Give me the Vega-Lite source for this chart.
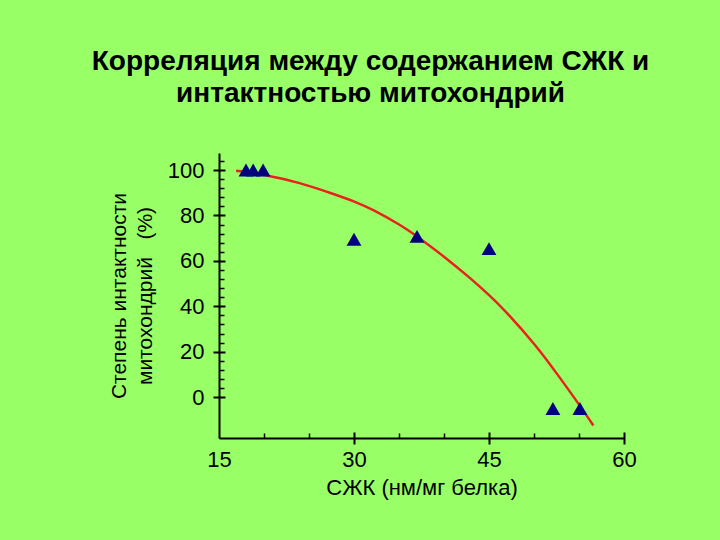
{
  "$schema": "https://vega.github.io/schema/vega-lite/v6.json",
  "autosize": {"type": "none"},
  "width": 405,
  "height": 285,
  "padding": {"left": 219, "top": 153, "right": 96, "bottom": 102},
  "background": "#99ff66",
  "config": {
    "view": {"stroke": null},
    "font": "Liberation Sans",
    "axis": {"grid": false, "domainColor": "black", "tickColor": "black", "labelColor": "black", "titleColor": "black", "labelFont": "Liberation Sans", "titleFont": "Liberation Sans"}
  },
  "title": {
    "text": ["Корреляция между содержанием СЖК и", "интактностью митохондрий"],
    "font": "Liberation Sans",
    "fontSize": 28,
    "fontWeight": "bold",
    "color": "black",
    "lineHeight": 32,
    "anchor": "middle",
    "dx": -51,
    "offset": 45
  },
  "datasets": {
    "curve": [
      {"x": 16.9, "y": 99.7},
      {"x": 20, "y": 98},
      {"x": 24, "y": 94.5},
      {"x": 27.7, "y": 89.5},
      {"x": 30, "y": 86.3},
      {"x": 32.1, "y": 82.6},
      {"x": 35.1, "y": 76},
      {"x": 37.3, "y": 70},
      {"x": 40, "y": 62},
      {"x": 42.9, "y": 52.5},
      {"x": 45, "y": 45},
      {"x": 46.6, "y": 39},
      {"x": 50.3, "y": 22.5},
      {"x": 52.7, "y": 9.5},
      {"x": 55.1, "y": -3.7},
      {"x": 56.6, "y": -12.5}
    ],
    "pts": [
      {"x": 18.0, "y": 100},
      {"x": 18.8, "y": 100},
      {"x": 19.9, "y": 100},
      {"x": 30, "y": 69.5},
      {"x": 37, "y": 70.8},
      {"x": 45, "y": 65.4},
      {"x": 52.1, "y": -5},
      {"x": 55.1, "y": -5}
    ]
  },
  "resolve": {"axis": {"x": "independent", "y": "independent"}},
  "layer": [
    {
      "data": {"name": "curve"},
      "mark": {"type": "line", "color": "#e8231c", "strokeWidth": 2.5, "interpolate": "basis"},
      "encoding": {
        "x": {"field": "x", "type": "quantitative", "scale": {"domain": [15, 60], "nice": false, "zero": false},
          "axis": {"orient": "bottom", "values": [20, 25, 35, 40, 50, 55], "tickSize": -5, "tickWidth": 1.5, "domainWidth": 2, "labels": false, "title": null}},
        "y": {"field": "y", "type": "quantitative", "scale": {"domain": [-18, 107.5], "nice": false, "zero": false},
          "axis": {"orient": "left", "values": [4, 8, 12, 16, 24, 28, 32, 36, 44, 48, 52, 56, 64, 68, 72, 76, 84, 88, 92, 96, 104], "tickSize": -5, "tickWidth": 1.5, "domainWidth": 2, "labels": false, "title": null}}
      }
    },
    {
      "data": {"name": "pts"},
      "mark": {"type": "point", "shape": "triangle-up", "filled": true, "color": "#00007f", "opacity": 1, "size": 220},
      "encoding": {
        "x": {"field": "x", "type": "quantitative",
          "axis": {"orient": "bottom", "values": [15, 30, 45, 60], "domain": false, "offset": -6, "tickSize": 12, "tickWidth": 2,
            "tickOpacity": {"expr": "datum.value == 15 ? 0 : 1"}, "labelFlush": false,
            "labelFontSize": 22, "labelPadding": 5, "title": "СЖК (нм/мг белка)", "titleFontSize": 22, "titleFontWeight": "normal", "titlePadding": 7}},
        "y": {"field": "y", "type": "quantitative",
          "axis": {"orient": "left", "values": [0, 20, 40, 60, 80, 100], "domain": false, "offset": -6, "tickSize": 12, "tickWidth": 2,
            "labelFontSize": 22, "labelPadding": 9,
            "title": ["Степень интактности", "митохондрий\u00a0\u00a0\u00a0(%)"], "titleFontSize": 21, "titleFontWeight": "normal", "titlePadding": 12, "titleLineHeight": 26}}
      }
    }
  ]
}
